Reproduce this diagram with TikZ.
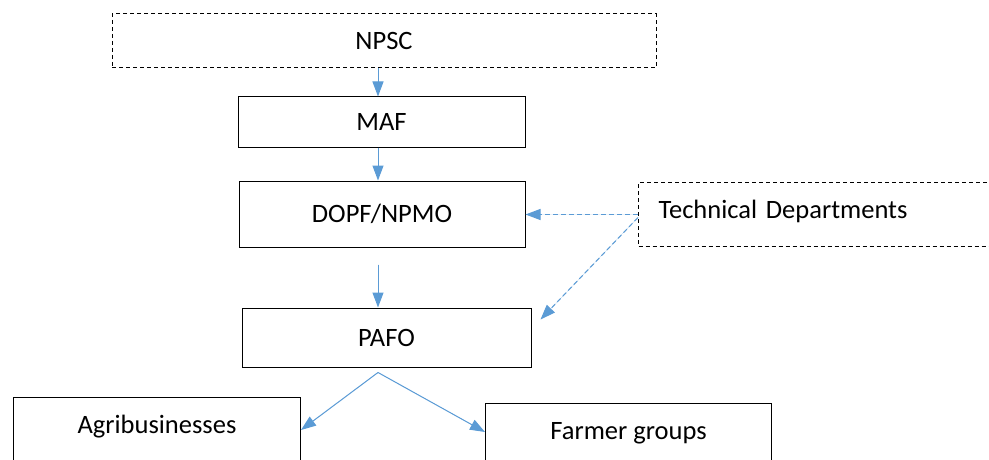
\documentclass[tikz,border=0pt]{standalone}
\usepackage{fontspec}
\setmainfont{Carlito}
\usetikzlibrary{arrows.meta,positioning}
\definecolor{arrowblue}{HTML}{5B9BD5}
\begin{document}
\begin{tikzpicture}[x=1pt, y=-1pt,
  font=\fontsize{26.5}{31}\selectfont,
  box/.style={draw, line width=1pt, inner sep=0pt, minimum width=#1},
  dbox/.style={box=#1, dash pattern=on 4pt off 3pt},
  arr/.style={-{Triangle[length=15pt, width=11pt]}, line width=1pt, draw=arrowblue, fill=arrowblue},
  darr/.style={arr, dash pattern=on 5pt off 3pt}]
\useasboundingbox (0,0) rectangle (989,460);
\node[dbox=544pt, minimum height=54pt] (npsc) at (384,41) {NPSC};
\node[box=287pt, minimum height=50pt] (maf) at (381.5,122) {MAF};
\node[box=286pt, minimum height=66pt] (dopf) at (382,214) {DOPF/NPMO};
\node[box=289pt, minimum height=59pt] (pafo) at (386.5,337.5) {PAFO};
% tall boxes, cut at the bottom edge
\node[box=287pt, anchor=north west, text height=36pt, text depth=44pt] (agri) at (13,397) {Agribusinesses};
\node[box=286pt, anchor=north west, text height=36pt, text depth=38pt] (farm) at (485,403) {Farmer groups};
\node[dbox=380pt, anchor=north west, text height=36pt, text depth=28pt,
      inner xsep=20pt, text width=340pt, align=left] (tech) at (638,182) {Technical Departments};
\coordinate (split) at ([xshift=-8.5pt, yshift=-5pt]pafo.south);
\draw[arr] ([xshift=-6pt]npsc.south) -- ([xshift=-3.5pt]maf.north);
\draw[arr] ([xshift=-3.5pt]maf.south) -- ([xshift=-4pt]dopf.north);
\draw[arr, shorten <=17pt] ([xshift=-4pt]dopf.south) -- ([xshift=-8.5pt]pafo.north);
\draw[darr] (tech.west) -- (tech.west -| dopf.east);
\draw[darr] ([yshift=-3pt]tech.west) -- ([xshift=9pt, yshift=-12pt]pafo.north east);
\draw[arr] (split) -- ([yshift=-33pt]agri.north east);
\draw[arr] (split) -- ([yshift=-29pt]farm.north west);
\end{tikzpicture}
\end{document}
